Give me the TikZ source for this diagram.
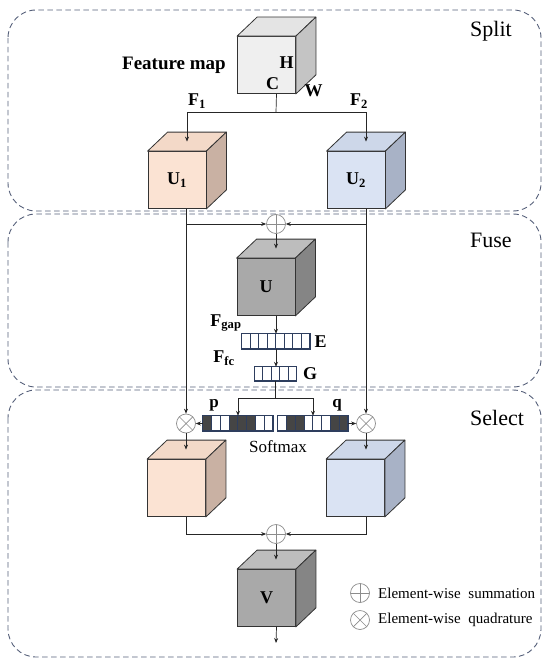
\documentclass[tikz,border=0pt]{standalone}
\usepackage{fontspec}
\setmainfont{Liberation Serif}
\usetikzlibrary{arrows.meta,calc}
\definecolor{edgec}{HTML}{333333}
\definecolor{panelc}{HTML}{56607A}
\definecolor{circc}{HTML}{8C8C8C}
\definecolor{barc}{HTML}{2E3E5E}
\definecolor{darkcell}{HTML}{454545}
\definecolor{fmfront}{HTML}{EFEFEF}
\definecolor{fmtop}{HTML}{E4E4E4}
\definecolor{fmside}{HTML}{C4C4C4}
\definecolor{pfront}{HTML}{FBE3D3}
\definecolor{ptop}{HTML}{F3D9C8}
\definecolor{pside}{HTML}{C9B1A3}
\definecolor{bfront}{HTML}{DAE3F3}
\definecolor{btop}{HTML}{CDD7E9}
\definecolor{bside}{HTML}{A8B2C6}
\definecolor{gfront}{HTML}{A9A9A9}
\definecolor{gtop}{HTML}{BDBDBD}
\definecolor{gside}{HTML}{858585}
\newcommand{\lblfont}{\bfseries\fontsize{18}{20}\selectfont}
\newcommand{\secfont}{\fontsize{22}{24}\selectfont}
\newcommand{\drawcube}[3]{%
  \draw[cubeedge, fill=#2] (#1.north west) -- ([shift={(20,-19)}]#1.north west) -- ([shift={(20,-19)}]#1.north east) -- (#1.north east) -- cycle;
  \draw[cubeedge, fill=#3] (#1.north east) -- ([shift={(20,-19)}]#1.north east) -- ([shift={(20,-19)}]#1.south east) -- (#1.south east) -- cycle;
  \coordinate (#1top) at ([shift={(10,-9.5)}]#1.north);
  \coordinate (#1bot) at ([shift={(10,0)}]#1.south);
}
\newcommand{\cellbar}[4]{%
  \foreach \cc [count=\i from 0] in {#4} {
    \draw[barcell, fill=\cc] ([shift={(\i*#2,0)}]#1.north west) rectangle ++(#2,#3);
  }
  \draw[barcell] (#1.north west) rectangle (#1.south east);
}
\tikzset{
  panel/.style={draw=panelc, line width=0.9pt, dash pattern=on 5.5pt off 3.5pt, rounded corners=28pt},
  cubefront/.style={draw=edgec, line width=0.8pt, minimum width=58pt, minimum height=57pt, inner sep=0pt, font=\lblfont},
  cubeedge/.style={draw=edgec, line width=0.8pt, line join=round},
  bar/.style={inner sep=0pt, minimum height=15pt},
  barcell/.style={draw=barc, line width=0.7pt},
  lbl/.style={font=\lblfont, inner sep=0pt},
  secl/.style={font=\secfont, inner sep=0pt, anchor=base west},
  legtext/.style={font=\fontsize{15}{17}\selectfont, inner sep=0pt, anchor=west},
  ln/.style={draw=black!85, line width=0.7pt},
  arr/.style={ln, -{Stealth[length=5pt,width=4pt]}},
  opcirc/.style={circle, draw=circc, fill=white, minimum size=19pt, inner sep=0pt, line width=0.7pt},
  oplus/.style={opcirc, path picture={\draw[circc, line width=0.7pt] (path picture bounding box.north) -- (path picture bounding box.south) (path picture bounding box.west) -- (path picture bounding box.east);}},
  otimes/.style={opcirc, path picture={\draw[circc, line width=0.7pt] (path picture bounding box.north west) -- (path picture bounding box.south east) (path picture bounding box.south west) -- (path picture bounding box.north east);}},
}
\begin{document}
\begin{tikzpicture}[x=1pt,y=-1pt]
\useasboundingbox (0,0) rectangle (550,666);
% panels
\draw[panel] (8,10) rectangle (541,211);
\draw[panel] (8,214) rectangle (541,387);
\draw[panel] (8,390) rectangle (541,657);
\node[secl] (tsplit) at (470,37) {Split};
\node[secl] (tfuse) at (470,247) {Fuse};
\node[secl] (tselect) at (470,425) {Select};
% split
\node[cubefront, fill=fmfront] (FM) at (266.5,65) {};
\drawcube{FM}{fmtop}{fmside}
\node[lbl, font=\bfseries\fontsize{19}{21}\selectfont, anchor=base west] (fmlabel) at (122,70) {Feature map};
\node[lbl] (lH) at (286.5,63) {H};
\node[lbl] (lC) at (272.5,84) {C};
\node[lbl] (lW) at (313.5,91) {W};
\node[cubefront, fill=pfront] (U1) at (177,180) {U\textsubscript{1}};
\drawcube{U1}{ptop}{pside}
\node[cubefront, fill=bfront] (U2) at (356,180) {U\textsubscript{2}};
\drawcube{U2}{btop}{bside}
\node[lbl] (lF1) at (197,101) {F\textsubscript{1}};
\node[lbl] (lF2) at (359,101) {F\textsubscript{2}};
\coordinate (spj) at (276,112);
\draw[ln] (FMbot) -- (spj);
\draw[arr] (spj) -| (U1top);
\draw[arr] (spj) -| (U2top);
% fuse
\node[oplus] (sumA) at (276,224) {};
\node[cubefront, fill=gfront] (U) at (266,287) {U};
\drawcube{U}{gtop}{gside}
\node[bar, minimum width=68pt] (E) at (276,341.5) {};
\cellbar{E}{8.5}{15}{white,white,white,white,white,white,white,white}
\node[bar, minimum width=42pt, minimum height=14pt] (G) at (275.5,374) {};
\cellbar{G}{8.4}{14}{white,white,white,white,white}
\node[lbl] (lE) at (320.5,342) {E};
\node[lbl] (lG) at (310,374) {G};
\node[lbl] (lFgap) at (226,323) {F\textsubscript{gap}};
\node[lbl] (lFfc) at (224,358) {F\textsubscript{fc}};
% select
\node[otimes] (mL) at (186,423.5) {};
\node[otimes] (mR) at (366,423.5) {};
\node[bar, minimum width=70pt] (pbar) at (238,423.5) {};
\cellbar{pbar}{8.75}{15}{darkcell,white,white,darkcell,darkcell,darkcell,white,white}
\node[bar, minimum width=70pt] (qbar) at (313,423.5) {};
\cellbar{qbar}{8.75}{15}{white,darkcell,darkcell,white,white,white,darkcell,darkcell}
\node[lbl, font=\bfseries\fontsize{17}{19}\selectfont] (lp) at (214,405) {p};
\node[lbl, font=\bfseries\fontsize{17}{19}\selectfont] (lq) at (337,405) {q};
\node[inner sep=0pt, font=\fontsize{17}{19}\selectfont] (soft) at (278,447) {Softmax};
\node[cubefront, fill=pfront] (L2) at (176.5,488) {};
\drawcube{L2}{ptop}{pside}
\node[cubefront, fill=bfront] (R2) at (355.5,488) {};
\drawcube{R2}{btop}{bside}
\node[oplus] (sumB) at (276,534) {};
\node[cubefront, fill=gfront] (V) at (266.5,598) {V};
\drawcube{V}{gtop}{gside}
\coordinate (vout) at (276,643);
% legend
\node[oplus] (legp) at (360,593) {};
\node[otimes] (legx) at (360,620) {};
\node[legtext] (legpt) at (378,593) {Element-wise\hspace{4pt} summation};
\node[legtext] (legxt) at (378,620) {Element-wise\hspace{4pt} quadrature};
% connectors
\coordinate (u1b) at ([shift={(9,0)}]U1.south);
\coordinate (u2b) at ([shift={(10,0)}]U2.south);
\draw[arr] (u1b) -- (u1b |- mL.north);
\draw[arr] (u2b) -- (u2b |- mR.north);
\draw[arr] (u1b |- sumA) -- (sumA.west);
\draw[arr] (u2b |- sumA) -- (sumA.east);
\draw[arr] (sumA.south) -- (Utop);
\draw[arr] (Ubot) -- (E.north);
\draw[arr] (E.south) -- (E.south |- G.north);
\coordinate (gj) at (276,398);
\draw[ln] (G.south) -- (G.south |- gj);
\draw[arr] (gj) -| (pbar.north);
\draw[arr] (gj) -| (qbar.north);
\draw[arr] (pbar.west) -- (mL.east);
\draw[arr] (qbar.east) -- (mR.west);
\draw[arr] (mL.south) -- (mL.south |- L2top);
\draw[arr] (mR.south) -- (mR.south |- R2top);
\coordinate (l2b) at ([shift={(9.5,0)}]L2.south);
\coordinate (r2b) at ([shift={(10.5,0)}]R2.south);
\draw[arr] (l2b) |- (sumB.west);
\draw[arr] (r2b) |- (sumB.east);
\draw[arr] (sumB.south) -- (sumB.south |- Vtop);
\draw[arr] (Vbot) -- (vout);
\end{tikzpicture}
\end{document}
